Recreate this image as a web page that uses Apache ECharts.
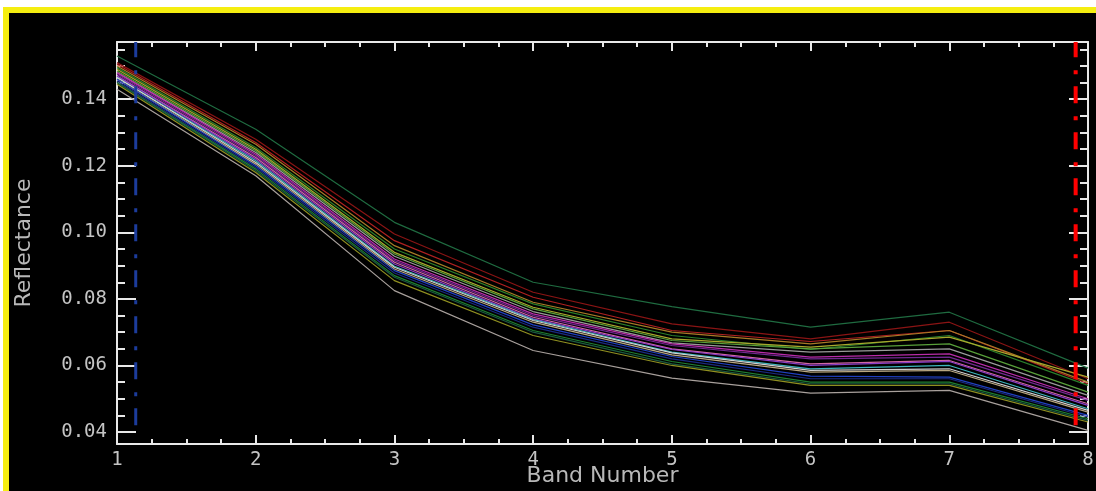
<!DOCTYPE html>
<html>
<head>
<meta charset="utf-8">
<script src="https://cdn.jsdelivr.net/npm/echarts@6/dist/echarts.min.js"></script>
<style>
  html, body { margin: 0; padding: 0; background: #ffffff; width: 1096px; height: 491px; overflow: hidden; }
  #frameY { position: absolute; left: 3px; top: 7px; right: 0; bottom: 0; background: #f5ee10; }
  #frameK { position: absolute; left: 9px; top: 13px; right: 0; bottom: 0; background: #000000; }
  #chart { position: absolute; left: 0; top: 0; width: 1096px; height: 491px; }
</style>
</head>
<body>
<div id="frameY"></div>
<div id="frameK"></div>
<div id="chart"></div>
<script>
// ---- data ----
const bands = [1, 2, 3, 4, 5, 6, 7, 8];
const xTickLabels = ['1', '2', '3', '4', '5', '6', '7', '8'];

const specDarkGreen  = [0.1530, 0.1310, 0.1030, 0.0850, 0.0777, 0.0715, 0.0760, 0.0592];
const specDarkRed    = [0.1510, 0.1280, 0.0995, 0.0820, 0.0725, 0.0680, 0.0730, 0.0560];
const specRed        = [0.1505, 0.1270, 0.0975, 0.0805, 0.0705, 0.0672, 0.0705, 0.0545];
const specOrange     = [0.1500, 0.1265, 0.0960, 0.0790, 0.0700, 0.0665, 0.0705, 0.0550];
const specGreen      = [0.1495, 0.1255, 0.0950, 0.0785, 0.0690, 0.0648, 0.0690, 0.0540];
const specYellow     = [0.1490, 0.1250, 0.0940, 0.0775, 0.0680, 0.0655, 0.0685, 0.0565];
const specLightGreen = [0.1485, 0.1245, 0.0935, 0.0770, 0.0675, 0.0650, 0.0665, 0.0520];
const specLightGray  = [0.1480, 0.1240, 0.0928, 0.0762, 0.0668, 0.0640, 0.0650, 0.0510];
const specMagenta    = [0.1480, 0.1235, 0.0920, 0.0755, 0.0665, 0.0625, 0.0635, 0.0500];
const specPurple     = [0.1475, 0.1230, 0.0915, 0.0750, 0.0660, 0.0620, 0.0625, 0.0495];
const specPink       = [0.1470, 0.1225, 0.0910, 0.0745, 0.0650, 0.0605, 0.0615, 0.0485];
const specViolet     = [0.1470, 0.1220, 0.0905, 0.0740, 0.0648, 0.0600, 0.0612, 0.0480];
const specCyan       = [0.1465, 0.1215, 0.0898, 0.0738, 0.0640, 0.0590, 0.0600, 0.0470];
const specWhite      = [0.1465, 0.1210, 0.0895, 0.0735, 0.0638, 0.0585, 0.0590, 0.0465];
const specBeige      = [0.1460, 0.1205, 0.0890, 0.0730, 0.0632, 0.0580, 0.0585, 0.0460];
const specBlue       = [0.1460, 0.1200, 0.0885, 0.0722, 0.0627, 0.0568, 0.0565, 0.0450];
const specNavy       = [0.1455, 0.1195, 0.0878, 0.0715, 0.0620, 0.0560, 0.0560, 0.0445];
const specGreen2     = [0.1450, 0.1190, 0.0870, 0.0705, 0.0612, 0.0550, 0.0550, 0.0440];
const specTeal       = [0.1450, 0.1185, 0.0865, 0.0700, 0.0605, 0.0545, 0.0545, 0.0435];
const specOlive      = [0.1445, 0.1180, 0.0855, 0.0690, 0.0600, 0.0540, 0.0540, 0.0430];
const specGray       = [0.1430, 0.1170, 0.0825, 0.0645, 0.0562, 0.0517, 0.0525, 0.0405];

// vertical marker lines (band positions) and their vertical extent (reflectance)
const markerBands = [1.135, 7.911];
const markerRange = [0.0420, 0.1572];

// axis ranges
const xRange = [1, 8];
const yRange = [0.0364, 0.1572];

// ---- styling ----
const specList = [
  [specDarkGreen, '#1f6b40'], [specDarkRed, '#8a1414'], [specRed, '#b02020'],
  [specOrange, '#a87a26'], [specGreen, '#2a7f2a'], [specYellow, '#a8a82c'],
  [specLightGreen, '#58a03a'], [specLightGray, '#9a9a9a'], [specMagenta, '#b82ca8'],
  [specPurple, '#702890'], [specPink, '#d068a4'], [specViolet, '#8a3cc8'],
  [specCyan, '#3cb4bc'], [specWhite, '#cfcfcf'], [specBeige, '#b8a680'],
  [specBlue, '#2040c0'], [specNavy, '#1a2a80'], [specGreen2, '#1e8030'],
  [specTeal, '#1a5a40'], [specOlive, '#909020'], [specGray, '#a8a09c']
];

const series = specList.map(([vals, color]) => ({
  type: 'line',
  data: bands.map((b, i) => [b, vals[i]]),
  symbol: 'none',
  lineStyle: { color: color, width: 1.2 },
  silent: true,
  z: 3
}));

series.push({
  type: 'line',
  data: markerRange.map(v => [markerBands[0], v]),
  symbol: 'none',
  lineStyle: { color: '#1c3c9c', width: 3, type: [17, 12, 4, 13] },
  silent: true,
  z: 4
});
series.push({
  type: 'line',
  data: markerRange.map(v => [markerBands[1], v]),
  symbol: 'none',
  lineStyle: { color: '#ff0000', width: 4, type: [17, 12, 4, 13] },
  silent: true,
  z: 4
});

const axisLineStyle = { color: '#e8e8e8', width: 2 };
const labelFont = { color: '#c4c4c4', fontFamily: 'DejaVu Sans Mono', fontSize: 19 };
const nameFont = { color: '#b8b8b8', fontFamily: 'DejaVu Sans', fontSize: 22 };

const yFormatter = v => {
  const k = Math.round(v / 0.02);
  return Math.abs(v - k * 0.02) < 1e-6 ? v.toFixed(2) : '';
};

const chart = echarts.init(document.getElementById('chart'), null, { renderer: 'canvas' });
chart.setOption({
  backgroundColor: 'transparent',
  animation: false,
  grid: { left: 117, right: 8, top: 42, bottom: 47, containLabel: false, outerBoundsMode: 'none' },
  xAxis: [
    {
      type: 'value', position: 'bottom', min: xRange[0], max: xRange[1], interval: 1,
      axisLine: { show: true, lineStyle: axisLineStyle },
      axisTick: { show: true, inside: true, length: 9, lineStyle: axisLineStyle },
      minorTick: { show: true, splitNumber: 4, length: 5, lineStyle: axisLineStyle },
      splitLine: { show: false },
      axisLabel: Object.assign({ margin: 7, formatter: v => xTickLabels[Math.round(v) - 1] || '' }, labelFont),
      name: 'Band Number', nameLocation: 'middle', nameGap: 21, nameMoveOverlap: false,
      nameTextStyle: nameFont
    },
    {
      type: 'value', position: 'top', min: xRange[0], max: xRange[1], interval: 1,
      axisLine: { show: true, lineStyle: axisLineStyle },
      axisTick: { show: true, inside: true, length: 9, lineStyle: axisLineStyle },
      minorTick: { show: true, splitNumber: 4, length: 5, lineStyle: axisLineStyle },
      splitLine: { show: false },
      axisLabel: { show: false }
    }
  ],
  yAxis: [
    {
      type: 'value', position: 'left', min: yRange[0], max: yRange[1], splitNumber: 6,
      axisLine: { show: true, lineStyle: axisLineStyle },
      axisTick: { show: true, inside: true, length: 19, lineStyle: axisLineStyle },
      minorTick: { show: true, splitNumber: 4, length: 8, lineStyle: axisLineStyle },
      splitLine: { show: false },
      axisLabel: Object.assign({ margin: 10, formatter: yFormatter, showMinLabel: false, showMaxLabel: false }, labelFont),
      name: 'Reflectance', nameLocation: 'middle', nameRotate: 90, nameGap: 82, nameMoveOverlap: false,
      nameTextStyle: nameFont
    },
    {
      type: 'value', position: 'right', min: yRange[0], max: yRange[1], splitNumber: 6,
      axisLine: { show: true, lineStyle: axisLineStyle },
      axisTick: { show: true, inside: true, length: 19, lineStyle: axisLineStyle },
      minorTick: { show: true, splitNumber: 4, length: 8, lineStyle: axisLineStyle },
      splitLine: { show: false },
      axisLabel: { show: false }
    }
  ],
  series: series
});
</script>
</body>
</html>
